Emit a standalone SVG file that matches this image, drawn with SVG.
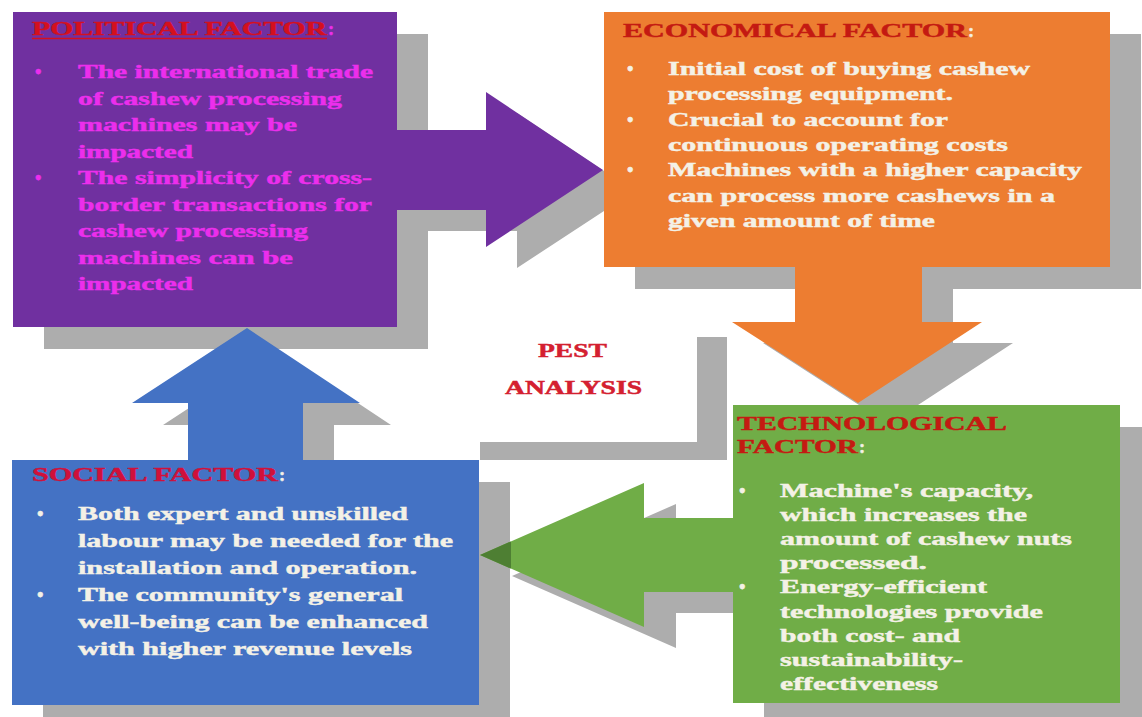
<svg xmlns="http://www.w3.org/2000/svg" width="1142" height="717" viewBox="0 0 1142 717">
<style>
.sh{fill:#ADADAD}
.t{font-family:"Liberation Serif","Times New Roman",serif;font-weight:bold;font-size:18.5px;stroke-width:0.45px}
.w{fill:#F4F1E6;stroke:#F4F1E6}
.m{fill:#EC2EEC;stroke:#EC2EEC}
.r{fill:#D4101E;stroke:#D4101E}
.dr{fill:#C41A12;stroke:#C41A12}
</style>
<rect width="1142" height="717" fill="#FFFFFF"/>
<g id="pest-analysis">
<polygon class="sh" points="697,337 727,337 727,460 480,460 480,442 697,442"/>
<text class="t" x="538" y="357" font-size="16" fill="#D42030" stroke="#D42030" textLength="69" lengthAdjust="spacingAndGlyphs">PEST</text>
<text class="t" x="505" y="394" font-size="16" fill="#D42030" stroke="#D42030" textLength="137" lengthAdjust="spacingAndGlyphs">ANALYSIS</text>
</g>
<g id="node-political">
<rect class="sh" x="44" y="34" width="384" height="315"/>
<rect x="13" y="12" width="384" height="315" fill="#7030A0"/>
<text class="t r" x="32" y="35" textLength="295" lengthAdjust="spacingAndGlyphs">POLITICAL FACTOR</text>
<line x1="32" y1="38.5" x2="327" y2="38.5" stroke="#D4101E" stroke-width="1.5"/>
<text class="t m" x="328" y="35">:</text>
<text class="t m" x="35" y="78">•</text>
<text class="t m" x="35" y="184">•</text>
<text class="t m" x="78" y="78" textLength="295" lengthAdjust="spacingAndGlyphs">The international trade</text>
<text class="t m" x="78" y="104.5" textLength="264" lengthAdjust="spacingAndGlyphs">of cashew processing</text>
<text class="t m" x="78" y="131" textLength="219" lengthAdjust="spacingAndGlyphs">machines may be</text>
<text class="t m" x="78" y="157.5" textLength="115" lengthAdjust="spacingAndGlyphs">impacted</text>
<text class="t m" x="78" y="184" textLength="294" lengthAdjust="spacingAndGlyphs">The simplicity of cross-</text>
<text class="t m" x="78" y="210.5" textLength="294" lengthAdjust="spacingAndGlyphs">border transactions for</text>
<text class="t m" x="78" y="237" textLength="230" lengthAdjust="spacingAndGlyphs">cashew processing</text>
<text class="t m" x="78" y="263.5" textLength="215" lengthAdjust="spacingAndGlyphs">machines can be</text>
<text class="t m" x="78" y="290" textLength="115" lengthAdjust="spacingAndGlyphs">impacted</text>
</g>
<g id="node-economical">
<rect class="sh" x="635" y="34" width="506" height="255"/>
<rect x="604" y="12" width="506" height="255" fill="#ED7D31"/>
<text class="t dr" x="623" y="37" textLength="344" lengthAdjust="spacingAndGlyphs">ECONOMICAL FACTOR</text>
<text class="t w" x="968" y="37">:</text>
<text class="t w" x="627" y="75">•</text>
<text class="t w" x="627" y="125.6">•</text>
<text class="t w" x="627" y="176">•</text>
<text class="t w" x="668" y="75" textLength="362" lengthAdjust="spacingAndGlyphs">Initial cost of buying cashew</text>
<text class="t w" x="668" y="100.3" textLength="285" lengthAdjust="spacingAndGlyphs">processing equipment.</text>
<text class="t w" x="668" y="125.6" textLength="280" lengthAdjust="spacingAndGlyphs">Crucial to account for</text>
<text class="t w" x="668" y="151" textLength="340" lengthAdjust="spacingAndGlyphs">continuous operating costs</text>
<text class="t w" x="668" y="176" textLength="414" lengthAdjust="spacingAndGlyphs">Machines with a higher capacity</text>
<text class="t w" x="668" y="201.5" textLength="387" lengthAdjust="spacingAndGlyphs">can process more cashews in a</text>
<text class="t w" x="668" y="227" textLength="267" lengthAdjust="spacingAndGlyphs">given amount of time</text>
</g>
<g id="node-technological">
<rect class="sh" x="764" y="427" width="387" height="298"/>
<rect x="733" y="405" width="387" height="298" fill="#70AD47"/>
<text class="t dr" x="737" y="430" textLength="270" lengthAdjust="spacingAndGlyphs">TECHNOLOGICAL</text>
<text class="t dr" x="737" y="453" textLength="121" lengthAdjust="spacingAndGlyphs">FACTOR</text>
<text class="t w" x="859" y="453">:</text>
<text class="t w" x="739" y="497">•</text>
<text class="t w" x="739" y="593">•</text>
<text class="t w" x="780" y="497" textLength="253" lengthAdjust="spacingAndGlyphs">Machine's capacity,</text>
<text class="t w" x="780" y="521" textLength="247" lengthAdjust="spacingAndGlyphs">which increases the</text>
<text class="t w" x="780" y="545" textLength="292" lengthAdjust="spacingAndGlyphs">amount of cashew nuts</text>
<text class="t w" x="780" y="569" textLength="147" lengthAdjust="spacingAndGlyphs">processed.</text>
<text class="t w" x="780" y="593" textLength="207" lengthAdjust="spacingAndGlyphs">Energy-efficient</text>
<text class="t w" x="780" y="617.5" textLength="263" lengthAdjust="spacingAndGlyphs">technologies provide</text>
<text class="t w" x="780" y="642" textLength="180" lengthAdjust="spacingAndGlyphs">both cost- and</text>
<text class="t w" x="780" y="666" textLength="183" lengthAdjust="spacingAndGlyphs">sustainability-</text>
<text class="t w" x="780" y="690" textLength="158" lengthAdjust="spacingAndGlyphs">effectiveness</text>
</g>
<g id="node-social">
<rect class="sh" x="43" y="482" width="467" height="245"/>
<rect x="12" y="460" width="467" height="245" fill="#4472C4"/>
<text class="t" x="32" y="481" fill="#D0103A" stroke="#D0103A" textLength="246" lengthAdjust="spacingAndGlyphs">SOCIAL FACTOR</text>
<text class="t w" x="279" y="481">:</text>
<text class="t w" x="37" y="520">•</text>
<text class="t w" x="37" y="601">•</text>
<text class="t w" x="78" y="520" textLength="330" lengthAdjust="spacingAndGlyphs">Both expert and unskilled</text>
<text class="t w" x="78" y="547" textLength="375" lengthAdjust="spacingAndGlyphs">labour may be needed for the</text>
<text class="t w" x="78" y="574" textLength="339" lengthAdjust="spacingAndGlyphs">installation and operation.</text>
<text class="t w" x="78" y="601" textLength="325" lengthAdjust="spacingAndGlyphs">The community's general</text>
<text class="t w" x="78" y="628" textLength="350" lengthAdjust="spacingAndGlyphs">well-being can be enhanced</text>
<text class="t w" x="78" y="655" textLength="334" lengthAdjust="spacingAndGlyphs">with higher revenue levels</text>
</g>
<g id="connectors">
<polygon class="sh" points="428,151 517,151 517,113 604,171 604,211 517,268 517,231 428,231"/>
<polygon fill="#7030A0" points="397,130 486,130 486,92 603,170 486,247 486,210 397,210"/>
<polygon class="sh" points="826,288 953,288 953,343 1013,343 918,405 859,405 763,343 826,343"/>
<polygon fill="#ED7D31" points="795,267 922,267 922,322 982,322 858,403 732,322 795,322"/>
<polygon class="sh" points="733,539 676,539 676,504 512,576 676,648 676,613 733,613"/>
<polygon fill="#70AD47" points="733,518 644,518 644,483 480,555 644,627 644,592 733,592"/>
<polygon fill="#4E7F33" points="480,555 511,541.4 511,568.6"/>
<polygon class="sh" points="219,460 219,425 163,425 278,350 391,425 334,425 334,460"/>
<polygon fill="#4472C4" points="188,460 188,403 132,403 247,328 360,403 303,403 303,460"/>
</g>
</svg>
